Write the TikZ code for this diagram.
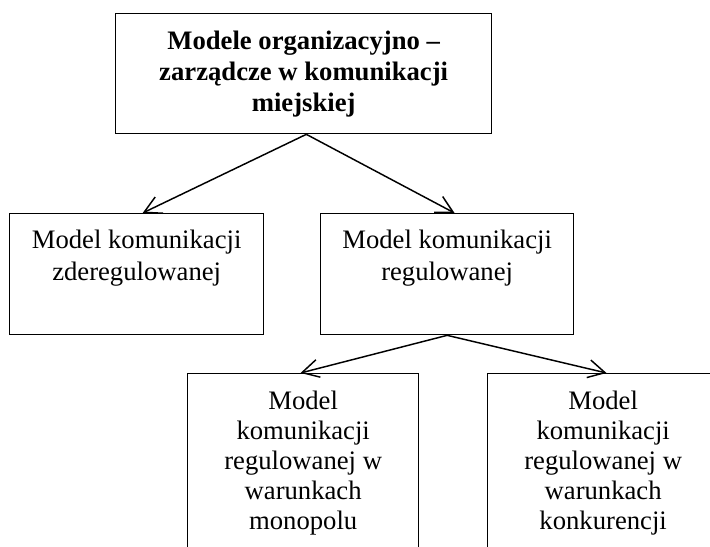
\documentclass[tikz,border=0pt]{standalone}
\usepackage{fontspec}
\setmainfont{Liberation Serif}
\usetikzlibrary{arrows.meta}

\begin{document}
\begin{tikzpicture}[x=0.75pt,y=-0.75pt,
    box/.style={draw,line width=1pt,inner sep=0pt,anchor=north west},
    txt/.style={anchor=north,inner sep=0pt,align=center,font=\fontsize{20pt}{24pt}\selectfont},
    lowtxt/.style={txt,font=\fontsize{20pt}{22.5pt}\selectfont},
    arr/.style={-{Straight Barb[length=12.5pt,width=13.5pt]},line width=1.1pt}]
	\useasboundingbox (0,0) rectangle (710,546);
	\clip (0,0) rectangle (710,546);
	% boxes
	\node[box,minimum width=282pt,minimum height=90pt,align=center,
	      font=\fontsize{20pt}{23.25pt}\selectfont\bfseries] (top) at (115,13)
	      {Modele organizacyjno –\\zarządcze w komunikacji\\miejskiej};
	\node[box,minimum width=190.5pt,minimum height=90.75pt] (zdereg) at (9,213) {};
	\node[box,minimum width=189.75pt,minimum height=90.75pt] (regul) at (320,213) {};
	\node[box,minimum width=173.25pt,minimum height=170pt] (mono) at (187,373) {};
	\node[box,minimum width=173.25pt,minimum height=170pt] (konk) at (487,373) {};
	% texts
	\node[txt] (zderegTxt) at ([yshift=-12.8pt]zdereg.north) {Model komunikacji\\zderegulowanej};
	\node[txt] (regulTxt) at ([yshift=-12.8pt]regul.north) {Model komunikacji\\regulowanej};
	\node[lowtxt] (monoTxt) at ([yshift=-13.4pt]mono.north) {Model\\komunikacji\\regulowanej w\\warunkach\\monopolu};
	\node[lowtxt] (konkTxt) at ([yshift=-13.4pt]konk.north) {Model\\komunikacji\\regulowanej w\\warunkach\\konkurencji};
	% arrows
	\draw[arr] ([xshift=2pt]top.south) -- ([xshift=4.5pt]zdereg.north);
	\draw[arr] ([xshift=2pt]top.south) -- ([xshift=5.5pt]regul.north);
	\draw[arr] (regul.south) -- ([xshift=-2pt]mono.north);
	\draw[arr] (regul.south) -- ([xshift=2.5pt]konk.north);
\end{tikzpicture}
\end{document}
